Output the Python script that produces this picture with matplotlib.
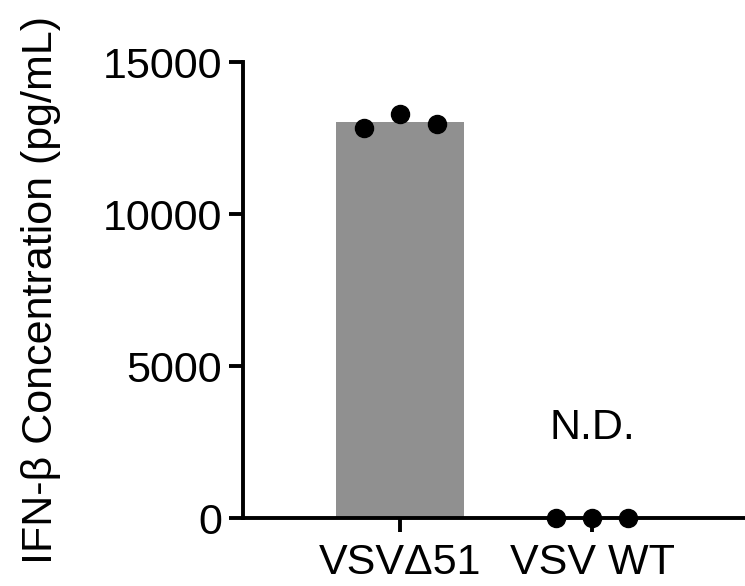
import matplotlib.pyplot as plt
import numpy as np

plt.rcParams['font.family'] = ['Liberation Sans', 'DejaVu Sans']

groups = ['VSVΔ51', 'VSV WT']
points = [[12830, 13290, 12960], [0, 0, 0]]
jitter = [-0.19, 0.0, 0.19]
bar_vals = [np.mean(p) for p in points]

fig = plt.figure(figsize=(7.45, 5.86), dpi=100)
ax = fig.add_axes([0.3262, 0.116, 0.6738, 0.778])

x = np.arange(len(groups))
ax.bar(x[0], bar_vals[0], width=0.667, color='#909090', zorder=1)
for i, pts in enumerate(points):
    ax.plot(x[i] + np.array(jitter), pts, 'o', color='black', markersize=13,
            clip_on=False, zorder=3)

ax.text(x[1], 2950, 'N.D.', ha='center', va='center', fontsize=31)

ax.set_xlim(-0.818, 1.797)
ax.set_ylim(0, 15000)
ax.set_yticks([0, 5000, 10000, 15000])
ax.set_xticks(x)
ax.set_xticklabels(groups)
ax.set_ylabel('IFN-β Concentration (pg/mL)', fontsize=31, labelpad=30)

for s in ['top', 'right']:
    ax.spines[s].set_visible(False)
for s in ['left', 'bottom']:
    ax.spines[s].set_linewidth(2.8)
ax.tick_params(axis='both', width=2.8, length=10, labelsize=31, pad=5)
ax.tick_params(axis='x', pad=8)

fig.savefig('out.png', dpi=100)
